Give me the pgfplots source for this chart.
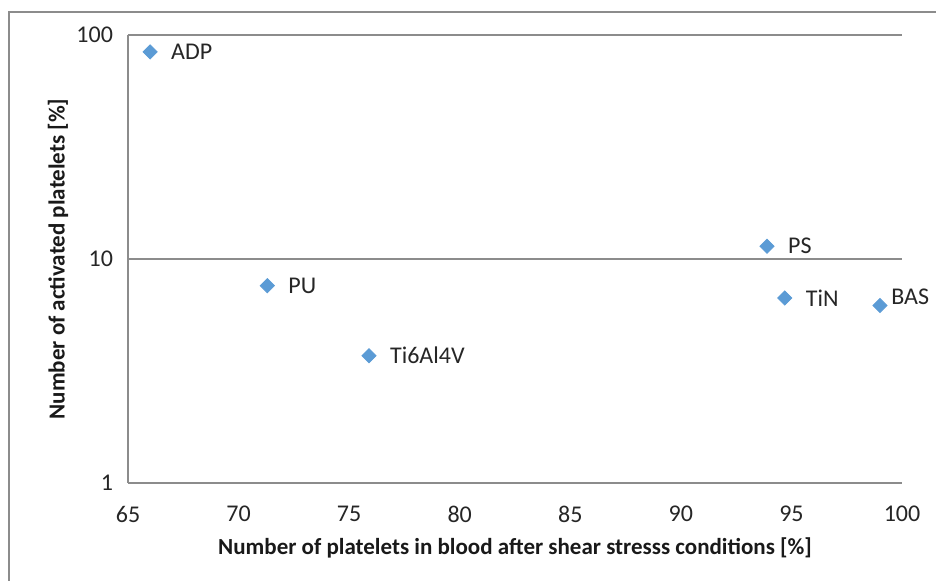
\documentclass[border=0pt]{standalone}
\usepackage{fontspec}
\setmainfont{Carlito}
\usepackage{pgfplots}
\usepackage{pgfplotstable}
\pgfplotsset{compat=1.18}
\definecolor{mk}{HTML}{5B9BD5}
\definecolor{gr}{HTML}{8C8C8C}
\pgfplotstableread{
x y label
66.0 84 ADP
71.3 7.6 PU
75.9 3.7 Ti6Al4V
93.9 11.4 PS
94.7 6.7 TiN
}\maindata
\pgfplotstableread{
x y label
99.0 6.2 BAS
}\basdata
\begin{document}
\begin{tikzpicture}[x=1pt,y=1pt]
\path[use as bounding box] (-64,-49) rectangle (404,241.5);
\draw[gr, line width=1pt] (-59.5,-49) -- (-59.5,235.5) -- (404,235.5);
\begin{axis}[
  at={(0,0)}, anchor=south west,
  width=387pt, height=224pt, scale only axis,
  xmin=65, xmax=100, ymode=log, ymin=1, ymax=100,
  xtick={65,70,75,80,85,90,95,100},
  xticklabels={65,70,75,80,85,90,95,100},
  ytick={1,10,100}, yticklabels={1,10,100},
  axis x line*=bottom, axis y line*=left,
  axis line style={gr, line width=0.9pt, -},
  ymajorgrids, grid style={gr, line width=0.9pt},
  major tick length=0pt, minor tick num=0,
  yminorticks=false,
  tick label style={font=\fontsize{12}{14}\selectfont, color=black!85},
  xticklabel style={yshift=-8pt},
  yticklabel style={xshift=-4pt},
  xlabel={Number of platelets in blood after shear stresss conditions [\%]},
  ylabel={Number of activated platelets [\%]},
  label style={font=\bfseries\fontsize{11.5}{13}\selectfont, color=black!90},
  xlabel style={at={(axis description cs:0.5,0)}, anchor=center, yshift=-32.5pt},
  ylabel style={at={(axis description cs:0,0.5)}, anchor=center, yshift=35pt},
  clip=false,
  point meta=explicit symbolic,
  nodes near coords={\pgfplotspointmeta},
]
\addplot[only marks, mark=square*, mark size=2.5pt,
  mark options={rotate=45, draw=mk, fill=mk},
  nodes near coords style={anchor=west, xshift=7pt, font=\fontsize{12}{14}\selectfont, color=black!85}]
  table[x=x, y=y, meta=label] {\maindata};
\addplot[only marks, mark=square*, mark size=2.5pt,
  mark options={rotate=45, draw=mk, fill=mk},
  nodes near coords style={anchor=south west, inner sep=0pt, xshift=5.5pt, yshift=0pt, font=\fontsize{12}{14}\selectfont, color=black!85}]
  table[x=x, y=y, meta=label] {\basdata};
\end{axis}
\end{tikzpicture}
\end{document}
